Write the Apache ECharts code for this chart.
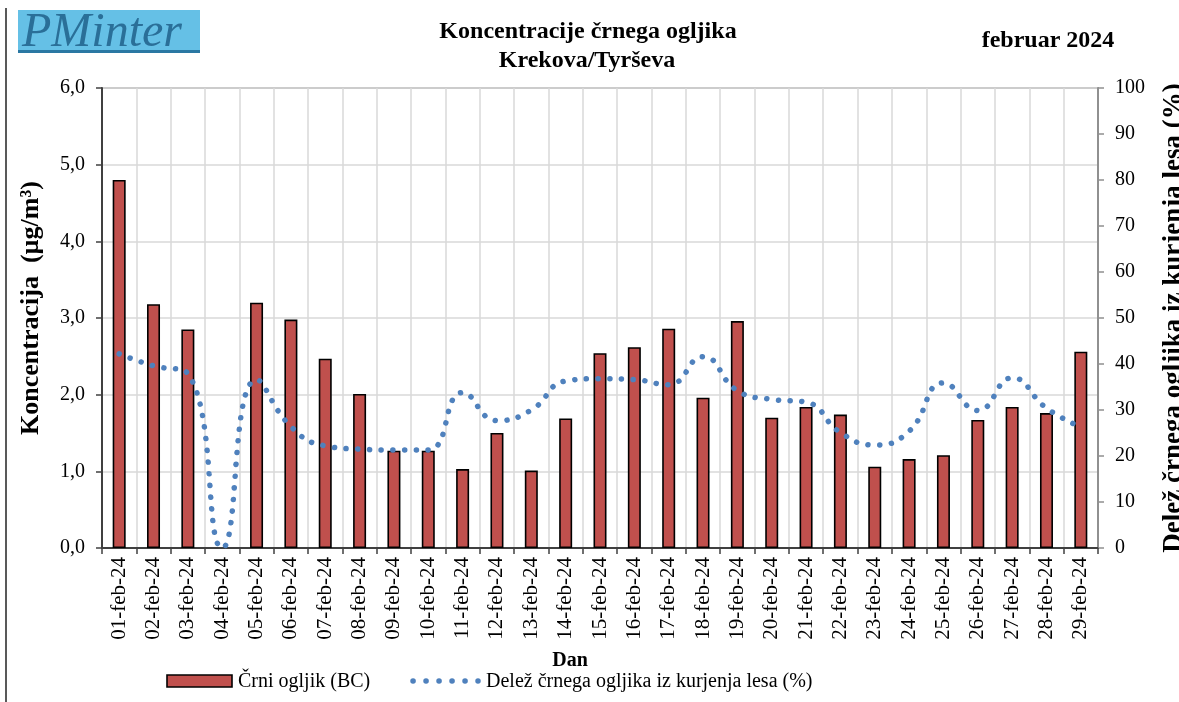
<!DOCTYPE html>
<html>
<head>
<meta charset="utf-8">
<script src="https://cdn.jsdelivr.net/npm/echarts@6/dist/echarts.min.js"></script>
<style>
html,body{margin:0;padding:0;background:#fff;}
#chart{width:1179px;height:702px;}
</style>
</head>
<body>
<div id="chart"></div>
<script>
const categories = ['01-feb-24','02-feb-24','03-feb-24','04-feb-24','05-feb-24','06-feb-24','07-feb-24','08-feb-24','09-feb-24','10-feb-24','11-feb-24','12-feb-24','13-feb-24','14-feb-24','15-feb-24','16-feb-24','17-feb-24','18-feb-24','19-feb-24','20-feb-24','21-feb-24','22-feb-24','23-feb-24','24-feb-24','25-feb-24','26-feb-24','27-feb-24','28-feb-24','29-feb-24'];
const bcValues = [4.80, 3.18, 2.85, null, 3.20, 2.98, 2.47, 2.01, 1.27, 1.27, 1.03, 1.50, 1.01, 1.69, 2.54, 2.62, 2.86, 1.96, 2.96, 1.70, 1.84, 1.74, 1.06, 1.16, 1.21, 1.67, 1.84, 1.76, 2.56];
const woodShare = [42.2, 39.6, 37.9, 0.0, 36.6, 26.4, 22.2, 21.5, 21.3, 21.3, 33.8, 27.7, 30.0, 36.3, 36.8, 36.6, 35.5, 41.6, 34.2, 32.3, 31.7, 25.1, 22.4, 25.4, 35.9, 29.9, 37.0, 30.4, 26.3];
const seriesNames = ['Črni ogljik (BC)', 'Delež črnega ogljika iz kurjenja lesa (%)'];
const titleLines = ['Koncentracije črnega ogljika', 'Krekova/Tyrševa'];
const periodLabel = 'februar 2024';
const leftAxisTitle = 'Koncentracija  (µg/m³)';
const rightAxisTitle = 'Delež črnega ogljika iz kurjenja lesa (%)';
const xAxisTitle = 'Dan';
const logoText = 'PMinter';

const FONT = '"Liberation Serif", "Times New Roman", serif';
const BAR_COLOR = '#c0504d';
const LINE_COLOR = '#4f81bd';
const chart = echarts.init(document.getElementById('chart'), null, {renderer: 'canvas'});

const option = {
  backgroundColor: '#ffffff',
  animation: false,
  textStyle: {fontFamily: FONT, color: '#000'},
  grid: {left: 102, right: 81, top: 88, bottom: 154, show: true, borderColor: '#a6a6a6', borderWidth: 2, backgroundColor: 'transparent'},
  xAxis: {
    type: 'category',
    data: categories,
    boundaryGap: true,
    axisLine: {show: true, lineStyle: {color: '#404040', width: 2}},
    axisTick: {show: true, interval: 0, length: 6, lineStyle: {color: '#404040', width: 1.5}},
    axisLabel: {interval: 0, rotate: 90, margin: 9, fontFamily: FONT, fontSize: 21, color: '#000'},
    splitLine: {show: true, interval: 0, lineStyle: {color: '#d9d9d9', width: 1.5}}
  },
  yAxis: [
    {
      type: 'value', min: 0, max: 6, interval: 1, position: 'left',
      axisLine: {show: true, lineStyle: {color: '#404040', width: 2}},
      axisTick: {show: true, length: 6, lineStyle: {color: '#404040', width: 1.5}},
      axisLabel: {margin: 17, fontFamily: FONT, fontSize: 20, color: '#000',
        formatter: v => v.toFixed(1).replace('.', ',')},
      splitLine: {show: true, lineStyle: {color: '#d9d9d9', width: 1.5}}
    },
    {
      type: 'value', min: 0, max: 100, interval: 10, position: 'right',
      axisLine: {show: true, lineStyle: {color: '#909090', width: 2}},
      axisTick: {show: true, length: 6, lineStyle: {color: '#909090', width: 1.5}},
      axisLabel: {margin: 17, fontFamily: FONT, fontSize: 20, color: '#000'},
      splitLine: {show: false}
    }
  ],
  series: [
    {
      name: seriesNames[0], type: 'bar', data: bcValues, yAxisIndex: 0,
      barWidth: 13,
      itemStyle: {color: BAR_COLOR, borderColor: '#000000', borderWidth: 1.6}
    },
    {
      name: seriesNames[1], type: 'line', data: woodShare, yAxisIndex: 1,
      smooth: 0.5, symbol: 'none', showSymbol: false,
      lineStyle: {color: LINE_COLOR, width: 5.5, type: [0.1, 11.6], cap: 'round'},
      itemStyle: {color: LINE_COLOR}
    }
  ],
  graphic: [
    {type: 'line', shape: {x1: 6, y1: 8, x2: 6, y2: 702}, style: {stroke: '#222', lineWidth: 1.5}},
    {type: 'rect', shape: {x: 18, y: 10, width: 182, height: 43}, style: {fill: '#65c0e6'}},
    {type: 'rect', shape: {x: 18, y: 50, width: 182, height: 3}, style: {fill: '#2a78a3'}},
    {type: 'text', x: 22, y: 33, style: {text: logoText, fontFamily: FONT, fontStyle: 'italic', fontSize: 48, fill: '#2a6f98', align: 'left', verticalAlign: 'middle'}},
    {type: 'text', x: 588, y: 32, style: {text: titleLines[0], fontFamily: FONT, fontWeight: 'bold', fontSize: 24, fill: '#000', align: 'center', verticalAlign: 'middle'}},
    {type: 'text', x: 587, y: 61, style: {text: titleLines[1], fontFamily: FONT, fontWeight: 'bold', fontSize: 24, fill: '#000', align: 'center', verticalAlign: 'middle'}},
    {type: 'text', x: 1048, y: 41, style: {text: periodLabel, fontFamily: FONT, fontWeight: 'bold', fontSize: 24, fill: '#000', align: 'center', verticalAlign: 'middle'}},
    {type: 'text', x: 31, y: 308, rotation: Math.PI / 2, style: {text: leftAxisTitle, fontFamily: FONT, fontWeight: 'bold', fontSize: 26, fill: '#000', align: 'center', verticalAlign: 'middle'}},
    {type: 'text', x: 1174, y: 318, rotation: Math.PI / 2, style: {text: rightAxisTitle, fontFamily: FONT, fontWeight: 'bold', fontSize: 27, fill: '#000', align: 'center', verticalAlign: 'middle'}},
    {type: 'text', x: 570, y: 661, style: {text: xAxisTitle, fontFamily: FONT, fontWeight: 'bold', fontSize: 20, fill: '#000', align: 'center', verticalAlign: 'middle'}},
    // legend
    {type: 'rect', shape: {x: 167, y: 675, width: 65, height: 12}, style: {fill: BAR_COLOR, stroke: '#000', lineWidth: 1.6}},
    {type: 'text', x: 238, y: 682, style: {text: seriesNames[0], fontFamily: FONT, fontSize: 20, fill: '#000', align: 'left', verticalAlign: 'middle'}},
    {type: 'line', shape: {x1: 413, y1: 681, x2: 478, y2: 681}, style: {stroke: LINE_COLOR, lineWidth: 5.5, lineDash: [0.1, 12.9], lineCap: 'round'}},
    {type: 'text', x: 486, y: 682, style: {text: seriesNames[1], fontFamily: FONT, fontSize: 20, fill: '#000', align: 'left', verticalAlign: 'middle'}}
  ]
};
chart.setOption(option);
</script>
</body>
</html>
